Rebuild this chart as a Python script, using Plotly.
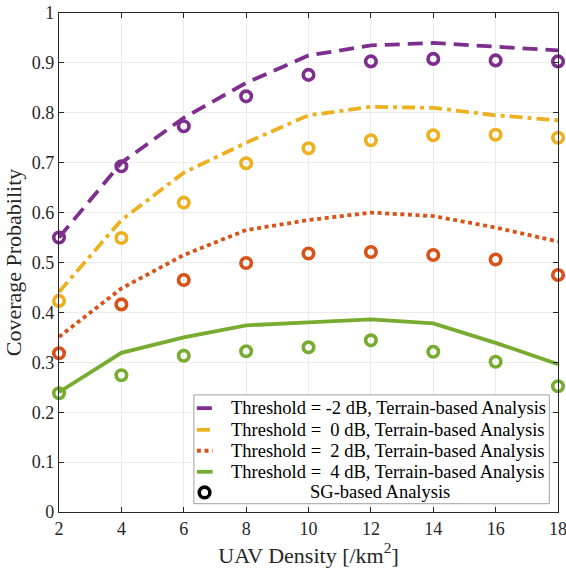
import plotly.graph_objects as go

density = [2, 4, 6, 8, 10, 12, 14, 16, 18]

terrain_m2 = [0.55, 0.70, 0.79, 0.86, 0.915, 0.935, 0.94, 0.932, 0.925]
terrain_0 = [0.441, 0.585, 0.68, 0.74, 0.795, 0.812, 0.81, 0.795, 0.785]
terrain_2 = [0.351, 0.448, 0.515, 0.565, 0.585, 0.60, 0.593, 0.57, 0.542]
terrain_4 = [0.24, 0.319, 0.35, 0.374, 0.38, 0.386, 0.378, 0.339, 0.296]

sg_m2 = [0.55, 0.693, 0.773, 0.833, 0.876, 0.903, 0.908, 0.905, 0.903]
sg_0 = [0.423, 0.549, 0.62, 0.699, 0.729, 0.745, 0.755, 0.756, 0.75]
sg_2 = [0.318, 0.416, 0.465, 0.499, 0.518, 0.521, 0.515, 0.506, 0.475]
sg_4 = [0.238, 0.274, 0.313, 0.322, 0.33, 0.344, 0.321, 0.301, 0.252]

names = ["Threshold = -2 dB, Terrain-based Analysis",
         "Threshold =\u00a0 0 dB, Terrain-based Analysis",
         "Threshold =\u00a0 2 dB, Terrain-based Analysis",
         "Threshold =\u00a0 4 dB, Terrain-based Analysis"]
sg_name = "SG-based Analysis"
colors = ["#7E2F8E", "#EDB120", "#D95319", "#77AC30"]
dash_patterns = ["15px,8px", "13px,5px,4px,5px", "4px,3.6px", "solid"]
terrain = [terrain_m2, terrain_0, terrain_2, terrain_4]
sg = [sg_m2, sg_0, sg_2, sg_4]

font = "Liberation Serif"

fig = go.Figure()
for s, c in zip(sg, colors):
    fig.add_trace(go.Scatter(x=density, y=s, mode="markers", showlegend=False, cliponaxis=False,
                             marker=dict(symbol="circle-open", size=10.5, color=c,
                                         line=dict(width=3.6, color=c))))
for t, n, c, d in zip(terrain, names, colors, dash_patterns):
    fig.add_trace(go.Scatter(x=density, y=t, mode="lines", name=n, showlegend=False,
                             line=dict(color=c, width=3.8, dash=d)))

# --- legend drawn as a boxed key (MATLAB style) ---
shapes = []
annotations = []
bx0, bx1, by0, by1 = 0.2703, 0.9826, 0.0166, 0.2347
shapes.append(dict(type="rect", xref="paper", yref="paper", x0=bx0, x1=bx1, y0=by0, y1=by1,
                   fillcolor="white", line=dict(color="#a0a0a0", width=1), layer="above"))
row_y = [0.2081, 0.1647, 0.1227, 0.0806, 0.0392]
sx0, sx1, tx = 0.2763, 0.3078, 0.3405
for yy, n, c, d in zip(row_y, names, colors, dash_patterns):
    shapes.append(dict(type="line", xref="paper", yref="paper", x0=sx0, x1=sx1, y0=yy, y1=yy,
                       line=dict(color=c, width=3.8, dash=d), layer="above"))
    annotations.append(dict(xref="paper", yref="paper", x=tx, y=yy, text=n, showarrow=False,
                            xanchor="left", yanchor="middle",
                            font=dict(family=font, size=18.5, color="black")))
shapes.append(dict(type="circle", xref="paper", yref="paper", xsizemode="pixel", ysizemode="pixel",
                   xanchor=0.2917, yanchor=row_y[4], x0=-5.3, x1=5.3, y0=-5.3, y1=5.3,
                   line=dict(color="black", width=3.6), layer="above"))
annotations.append(dict(xref="paper", yref="paper", x=0.6435, y=row_y[4], text=sg_name,
                        showarrow=False, xanchor="center", yanchor="middle",
                        font=dict(family=font, size=18.5, color="black")))

fig.update_layout(
    width=566, height=571,
    margin=dict(l=59.3, r=8.3, t=12.5, b=58.7, autoexpand=False),
    paper_bgcolor="white", plot_bgcolor="white",
    font=dict(family=font, size=18, color="#262626"),
    showlegend=False,
    shapes=shapes, annotations=annotations,
    xaxis=dict(range=[2, 18], tickvals=density, ticks="inside", ticklen=5,
               tickcolor="#262626", ticklabeloverflow="allow",
               showline=True, linecolor="#262626", linewidth=1.2, mirror="ticks",
               showgrid=True, gridcolor="#ebebeb", zeroline=False, automargin=True,
               tickfont=dict(family=font, size=18),
               title=dict(text="UAV Density [/km<sup>2</sup>]", standoff=9,
                          font=dict(family=font, size=22))),
    yaxis=dict(range=[0, 1], tickvals=[i / 10 for i in range(11)],
               ticktext=["0"] + [f"{i/10:.1f}" for i in range(1, 10)] + ["1"],
               ticks="inside", ticklen=5, tickcolor="#262626", ticklabeloverflow="allow",
               showline=True, linecolor="#262626", linewidth=1.2, mirror="ticks",
               showgrid=True, gridcolor="#ebebeb", zeroline=False, automargin=True,
               tickfont=dict(family=font, size=18),
               title=dict(text="Coverage Probability", standoff=4,
                          font=dict(family=font, size=22))),
)

fig.write_html("out.html", config={"displayModeBar": False},
               post_script="document.body.style.margin='0px';document.body.style.padding='0px';document.body.style.overflow='hidden';")
